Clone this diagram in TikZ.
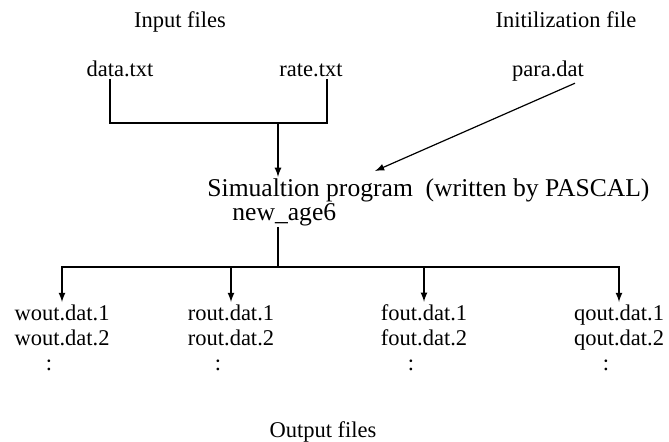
\documentclass[tikz,border=0pt]{standalone}
\usepackage{fontspec}
\setmainfont{Liberation Serif}
\usepackage{tikz}
\usetikzlibrary{arrows, positioning, calc}
\tikzstyle{arrow} = [semithick,->,>=latex]
\tikzstyle{link} = [semithick]
\tikzstyle{label} = [inner sep=1pt, anchor=base, font=\fontsize{11.25}{13.5}\selectfont]
\tikzstyle{fname} = [inner sep=1pt, anchor=base, font=\fontsize{11.25}{13.5}\selectfont]
\tikzstyle{prog} = [inner sep=0.5pt, anchor=base west, font=\fontsize{12.8}{15}\selectfont]

\begin{document}
\begin{tikzpicture}[x=0.5pt, y=-0.5pt]
    \useasboundingbox (0,0) rectangle (669,441);
    % inputs
    \node (inlab) [label] at (180,27) {Input files};
    \node (initlab) [label] at (566,27) {Initilization file};
    \node (data) [fname] at (120,76) {data.txt};
    \node (rate) [fname] at (311,76) {rate.txt};
    \node (para) [fname] at (548,76) {para.dat};
    % program
    \node (sim) [prog] at (206,196) {Simualtion program\ \ (written by PASCAL)};
    \node (new) [prog] at (231,220) {new\_age6};
    \coordinate (jn) at (278,123);
    \coordinate (pin) at (375,171);
    \coordinate (fork) at (278,267);
    \draw [link] ([xshift=-5pt]data.south) |- (jn) -| ([xshift=8pt]rate.south);
    \draw [arrow] (jn) -- (jn |- sim.north);
    \draw [arrow] ([xshift=13.5pt]para.south) -- (pin);
    % outputs
    \node (w1) [fname] at (62,320) {wout.dat.1};
    \node (r1) [fname] at (231,320) {rout.dat.1};
    \node (f1) [fname] at (424,320) {fout.dat.1};
    \node (q1) [fname] at (619,320) {qout.dat.1};
    \foreach \n in {w,r,f,q} {
        \node (\n2) [fname, below=0pt of \n1.base, anchor=base, yshift=-12.5pt] {\n out.dat.2};
        \node (\n3) [fname, below=0pt of \n2.base, anchor=base, xshift=-6.5pt, yshift=-12.5pt] {:};
        \draw [arrow] (fork) -| (\n1.north);
    }
    \draw [link] (fork |- new.south) -- (fork);
    \node (outlab) [label] at (323,437) {Output files};
\end{tikzpicture}
\end{document}
